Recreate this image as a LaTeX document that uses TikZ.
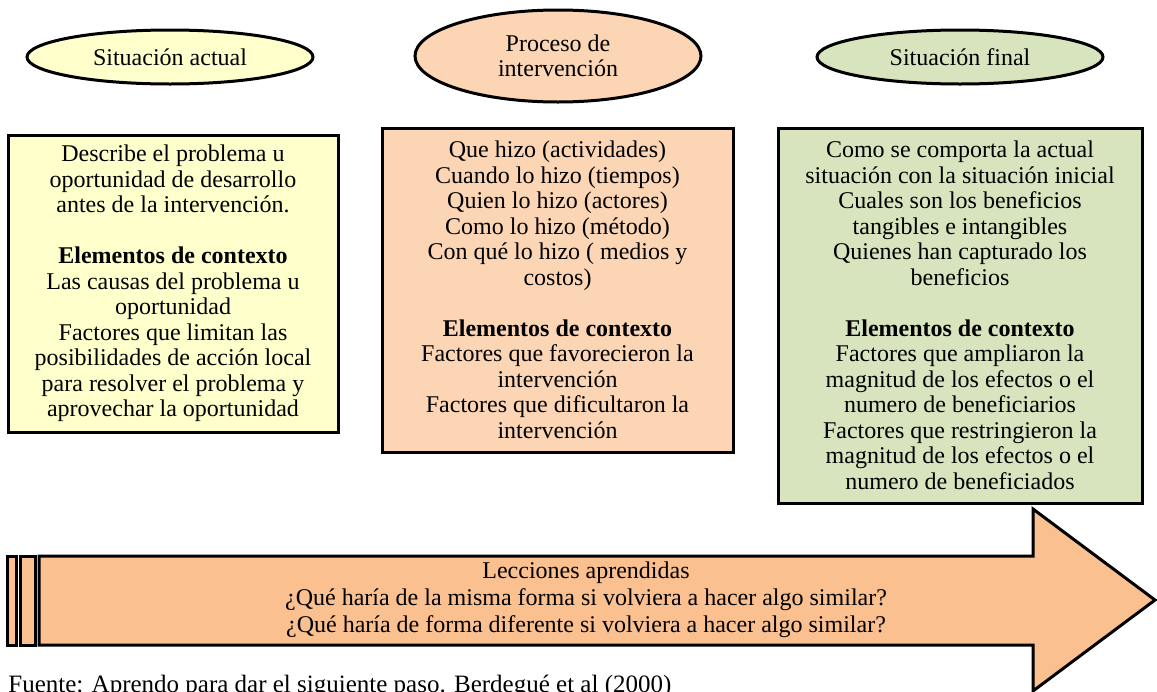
\documentclass[tikz,border=0pt]{standalone}
\usepackage{fontspec}
\setmainfont{Liberation Serif}
\usepackage{tikz}
\usetikzlibrary{positioning}
\usetikzlibrary{shapes.geometric}
\usetikzlibrary{calc}
\usepackage{xcolor}
\definecolor{amarillo}{HTML}{FFFFCC}
\definecolor{durazno}{HTML}{FCD5B5}
\definecolor{naranja}{HTML}{FAC090}
\definecolor{verde}{HTML}{D7E4BD}

\begin{document}
\begin{tikzpicture}[x=0.5pt,y=-0.5pt,
        etapa/.style={ellipse, draw, line width=1.5pt, inner sep=0pt, minimum width=143pt, minimum height=27pt, align=center, font=\fontsize{12}{12.75}\selectfont},
        caja/.style={draw, line width=1.5pt, inner sep=0pt, align=center, font=\fontsize{12}{12.75}\selectfont}]
        \useasboundingbox (0,0) rectangle (1157,691);
        \clip (0,0) rectangle (1157,691);
        \node[etapa, fill=amarillo] (actual) at (170,57) {Situación actual};
        \node[etapa, fill=durazno, minimum height=46pt] (proceso) at (558,56) {Proceso de\\intervención};
        \node[etapa, fill=verde] (final) at (960,57) {Situación final};
        \node[caja, fill=amarillo, minimum width=165pt, minimum height=148.5pt] (antes) at (173,283.5)
            {Describe el problema u\\oportunidad de desarrollo\\antes de la intervención.\\[12.75pt]
             \textbf{Elementos de contexto}\\Las causas del problema u\\oportunidad\\Factores que limitan las\\posibilidades de acción local\\para resolver el problema y\\aprovechar la oportunidad};
        \node[caja, fill=durazno, minimum width=175.5pt, minimum height=162pt] (durante) at (557.5,290)
            {Que hizo (actividades)\\Cuando lo hizo (tiempos)\\Quien lo hizo (actores)\\Como lo hizo (método)\\Con qué lo hizo ( medios y\\costos)\\[12.75pt]
             \textbf{Elementos de contexto}\\Factores que favorecieron la\\intervención\\Factores que dificultaron la\\intervención};
        \node[caja, fill=verde, minimum width=182pt, minimum height=187.5pt] (despues) at (960,315.5)
            {Como se comporta la actual\\situación con la situación inicial\\Cuales son los beneficios\\tangibles e intangibles\\Quienes han capturado los\\beneficios\\[12.75pt]
             \textbf{Elementos de contexto}\\Factores que ampliaron la\\magnitud de los efectos o el\\numero de beneficiarios\\Factores que restringieron la\\magnitud de los efectos o el\\numero de beneficiados};
        \foreach \a/\b in {7/16, 20/35}
            \draw[line width=1.5pt, fill=naranja] (\a,556) rectangle (\b,645);
        \draw[line width=1.5pt, fill=naranja, line join=miter] (39,556) -- (1033,556) -- (1033,509) -- (1155,600) -- (1033,691) -- (1033,645) -- (39,645) -- cycle;
        \node[align=center, font=\fontsize{12}{13.5}\selectfont] (lecciones) at (586,600)
            {Lecciones aprendidas\\¿Qué haría de la misma forma si volviera a hacer algo similar?\\¿Qué haría de forma diferente si volviera a hacer algo similar?};
        \node[anchor=base west, inner sep=0pt, font=\fontsize{12.5}{15}\selectfont] (fuente) at (8,692)
            {Fuente: Aprendo para dar el siguiente paso. Berdegué et al (2000)};
    \end{tikzpicture}
\end{document}
